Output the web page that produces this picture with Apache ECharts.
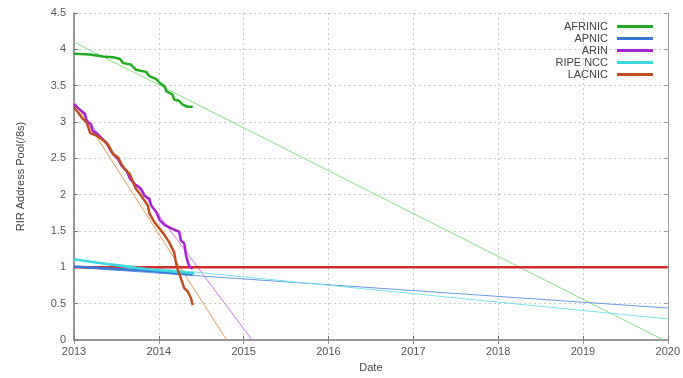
<!DOCTYPE html>
<html><head><meta charset="utf-8">
<script src="https://cdn.jsdelivr.net/npm/echarts@6/dist/echarts.min.js"></script>
<style>html,body{margin:0;padding:0;background:#fff}#c{width:683px;height:378px}</style>
</head><body><div id="c"></div>
<script>
const seriesNames = ['AFRINIC','APNIC','ARIN','RIPE NCC','LACNIC'];
const xTicks = [2013,2014,2015,2016,2017,2018,2019,2020];
const yTicks = [0,0.5,1,1.5,2,2.5,3,3.5,4,4.5];

const afrinic = [[2013.0,3.94],[2013.19,3.93],[2013.34,3.9],[2013.46,3.89],[2013.54,3.87],[2013.58,3.81],[2013.67,3.79],[2013.73,3.72],[2013.85,3.69],[2013.89,3.63],[2013.97,3.59],[2014.01,3.54],[2014.07,3.49],[2014.09,3.42],[2014.16,3.38],[2014.18,3.31],[2014.24,3.29],[2014.28,3.24],[2014.34,3.21],[2014.4,3.21]];
const apnic = [[2013.0,1.01],[2013.3,0.99],[2013.6,0.97],[2013.9,0.95],[2014.2,0.92],[2014.4,0.9]];
const arin = [[2013.0,3.24],[2013.07,3.17],[2013.13,3.11],[2013.15,3.01],[2013.2,2.97],[2013.22,2.88],[2013.28,2.83],[2013.34,2.76],[2013.4,2.69],[2013.42,2.63],[2013.46,2.56],[2013.52,2.49],[2013.56,2.4],[2013.62,2.33],[2013.66,2.22],[2013.71,2.15],[2013.79,2.08],[2013.83,1.99],[2013.89,1.94],[2013.91,1.85],[2013.97,1.76],[2014.01,1.65],[2014.07,1.58],[2014.16,1.53],[2014.24,1.49],[2014.26,1.37],[2014.3,1.33],[2014.32,1.17],[2014.34,1.08],[2014.36,1.01],[2014.4,0.98]];
const ripe = [[2013.0,1.11],[2013.3,1.06],[2013.6,1.01],[2013.9,0.97],[2014.2,0.94],[2014.42,0.92]];
const lacnic = [[2013.0,3.2],[2013.05,3.13],[2013.09,3.06],[2013.15,2.99],[2013.19,2.85],[2013.27,2.81],[2013.33,2.76],[2013.38,2.72],[2013.42,2.65],[2013.46,2.56],[2013.52,2.51],[2013.56,2.42],[2013.6,2.35],[2013.66,2.28],[2013.69,2.19],[2013.73,2.08],[2013.79,1.99],[2013.83,1.92],[2013.87,1.85],[2013.89,1.74],[2013.95,1.62],[2014.01,1.53],[2014.07,1.44],[2014.12,1.35],[2014.18,1.21],[2014.2,1.08],[2014.22,0.98],[2014.26,0.85],[2014.3,0.71],[2014.34,0.67],[2014.38,0.57],[2014.4,0.48]];

const afrinicTrend = [[2013,4.1],[2019.95,0]];
const apnicTrend = [[2013,1.0],[2020,0.44]];
const arinTrend = [[2013,3.28],[2015.1,0]];
const ripeTrend = [[2013,1.1],[2020,0.29]];
const lacnicTrend = [[2013,3.28],[2014.8,0]];
const limitLine = [[2013,1],[2020,1]];

const colors = {AFRINIC:'#22aa22', APNIC:'#3a78d6', ARIN:'#a822d0', 'RIPE NCC':'#3cd8e0', LACNIC:'#bf4f1f'};
const trendColors = {AFRINIC:'#88dd88', APNIC:'#6a9ae6', ARIN:'#cc77ee', 'RIPE NCC':'#7ae4ec', LACNIC:'#e39a5e'};

function line(name, data, color, width, z){
  return {name:name, type:'line', data:data, showSymbol:false, symbol:'none', silent:true, z:z,
    lineStyle:{color:color, width:width}, itemStyle:{color:color}, animation:false};
}
const font = 'Liberation Sans, Arial, sans-serif';
const tickStyle = {color:'#555', fontSize:11, fontFamily:font};

const chart = echarts.init(document.getElementById('c'));
chart.setOption({
  animation:false,
  grid:{left:74, right:11, top:13, bottom:36, show:false},
  legend:{data:seriesNames, orient:'vertical', right:25, top:16, align:'right', itemGap:1, icon:'rect',
    itemWidth:36, itemHeight:3, textStyle:{color:'#444', fontSize:11, fontFamily:font, padding:[0,4,0,0]}},
  xAxis:[{type:'value', min:2013, max:2020, interval:1, name:'Date', nameLocation:'middle', nameGap:22,
    nameTextStyle:{color:'#444', fontSize:11, fontFamily:font},
    axisLine:{show:true, onZero:false, lineStyle:{color:'#777', width:1.5}},
    axisTick:{show:true, inside:true, length:4, lineStyle:{color:'#777'}},
    axisLabel:Object.assign({margin:6, formatter:v=>String(v)}, tickStyle),
    splitLine:{show:true, lineStyle:{color:'#c8c8c8', type:[2,3], width:1}}},
   {type:'value', position:'top', min:2013, max:2020, interval:1,
    axisLine:{show:true, lineStyle:{color:'#999', width:1}}, axisTick:{show:true, inside:true, length:4, lineStyle:{color:'#999'}},
    axisLabel:{show:false}, splitLine:{show:false}}],
  yAxis:[{type:'value', min:0, max:4.5, interval:0.5, name:'RIR Address Pool(/8s)', nameLocation:'middle', nameGap:48,
    nameTextStyle:{color:'#444', fontSize:11, fontFamily:font},
    axisLine:{show:true, onZero:false, lineStyle:{color:'#777', width:1.5}},
    axisTick:{show:true, inside:true, length:4, lineStyle:{color:'#777'}},
    axisLabel:Object.assign({margin:8}, tickStyle),
    splitLine:{show:true, lineStyle:{color:'#c8c8c8', type:[2,3], width:1}}},
   {type:'value', position:'right', min:0, max:4.5, interval:0.5,
    axisLine:{show:true, lineStyle:{color:'#999', width:1}}, axisTick:{show:true, inside:true, length:4, lineStyle:{color:'#999'}},
    axisLabel:{show:false}, splitLine:{show:false}}],
  series:[
    line('AFRINIC fit', afrinicTrend, trendColors.AFRINIC, 1, 2),
    line('APNIC fit', apnicTrend, trendColors.APNIC, 1, 2),
    line('ARIN fit', arinTrend, trendColors.ARIN, 1, 2),
    line('RIPE NCC fit', ripeTrend, trendColors['RIPE NCC'], 1, 2),
    line('LACNIC fit', lacnicTrend, trendColors.LACNIC, 1, 2),
    line('limit', limitLine, '#d42a2a', 2.5, 3),
    line('AFRINIC', afrinic, colors.AFRINIC, 2.5, 4),
    line('APNIC', apnic, colors.APNIC, 2.5, 4),
    line('ARIN', arin, colors.ARIN, 2.5, 4),
    line('RIPE NCC', ripe, colors['RIPE NCC'], 2.5, 4),
    line('LACNIC', lacnic, colors.LACNIC, 2.5, 5)
  ]
});
</script></body></html>
